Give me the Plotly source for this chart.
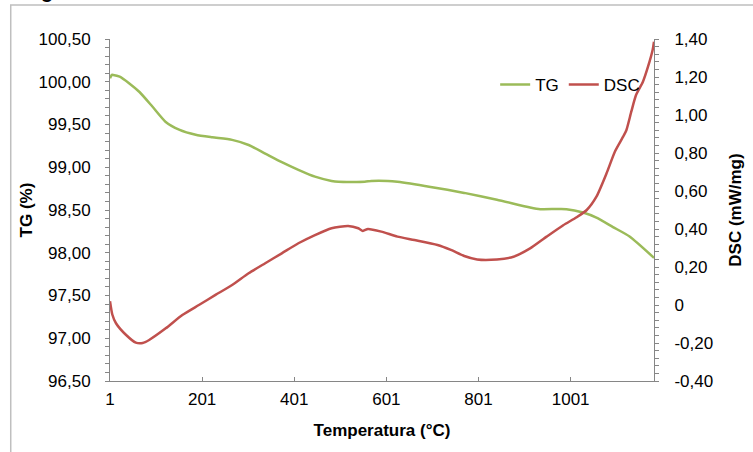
import plotly.graph_objects as go

# ---- data ----
tg_x = [1, 5, 8, 22, 43, 65, 93, 122, 151, 187, 223, 266, 302, 338, 374, 410, 446,
        482, 497, 554, 568, 604, 625, 697, 770, 841, 913, 935, 992, 1028, 1057, 1093,
        1129, 1182]
tg_y = [100.04, 100.08, 100.08, 100.06, 99.98, 99.88, 99.71, 99.53, 99.44, 99.38,
        99.35, 99.32, 99.26, 99.16, 99.06, 98.97, 98.89, 98.84, 98.83, 98.83, 98.84,
        98.84, 98.83, 98.77, 98.70, 98.62, 98.53, 98.51, 98.51, 98.47, 98.41, 98.30,
        98.19, 97.94]

dsc_x = [1, 6, 14, 36, 57, 72, 86, 122, 158, 194, 230, 266, 302, 338, 374, 410, 446,
         482, 518, 540, 550, 561, 590, 625, 662, 712, 741, 770, 798, 841, 877, 913,
         949, 985, 1014, 1036, 1057, 1079, 1097, 1115, 1122, 1133, 1143, 1158, 1169,
         1179, 1182]
dsc_y = [0.02, -0.05, -0.096, -0.158, -0.198, -0.20, -0.184, -0.123, -0.053, 0.00,
         0.053, 0.105, 0.167, 0.22, 0.272, 0.325, 0.368, 0.404, 0.416, 0.404, 0.39,
         0.40, 0.386, 0.36, 0.342, 0.316, 0.29, 0.258, 0.24, 0.24, 0.254, 0.298, 0.36,
         0.42, 0.462, 0.50, 0.57, 0.693, 0.807, 0.886, 0.92, 1.02, 1.105, 1.175, 1.254,
         1.342, 1.386]

x_ticks = [1, 201, 401, 601, 801, 1001]
x_ticklabels = ["1", "201", "401", "601", "801", "1001"]
tg_ticks = [96.5, 97.0, 97.5, 98.0, 98.5, 99.0, 99.5, 100.0, 100.5]
tg_ticklabels = ["96,50", "97,00", "97,50", "98,00", "98,50", "99,00", "99,50",
                 "100,00", "100,50"]
dsc_ticks = [-0.4, -0.2, 0.0, 0.2, 0.4, 0.6, 0.8, 1.0, 1.2, 1.4]
dsc_ticklabels = ["-0,40", "-0,20", "0", "0,20", "0,40", "0,60", "0,80", "1,00",
                  "1,20", "1,40"]

GREEN = "#9BBB59"
RED = "#C0504D"
AXIS = "#868686"
FONT = "Liberation Sans, Arial, sans-serif"

fig = go.Figure()
fig.add_trace(go.Scatter(x=tg_x, y=tg_y, name="TG", mode="lines",
                         line=dict(color=GREEN, width=2.5, shape="spline", smoothing=0.6),
                         yaxis="y"))
fig.add_trace(go.Scatter(x=dsc_x, y=dsc_y, name="DSC", mode="lines",
                         line=dict(color=RED, width=2.5, shape="spline", smoothing=0.6),
                         yaxis="y2"))

L, R, T, B = 110, 95, 39, 71
W, H = 753, 452
pw, ph = W - L - R, H - T - B


def px_x(px):
    return (px - L) / pw


def px_y(py):
    return (H - B - py) / ph


fig.update_layout(
    width=W, height=H,
    margin=dict(l=L, r=R, t=T, b=B, pad=0),
    paper_bgcolor="white", plot_bgcolor="white",
    font=dict(family=FONT, size=17, color="black"),
    showlegend=True,
    legend=dict(orientation="h", x=px_x(498), xanchor="left", y=px_y(85),
                yanchor="middle", bgcolor="rgba(0,0,0,0)", borderwidth=0,
                font=dict(size=17), itemwidth=30, tracegroupgap=0),
    xaxis=dict(range=[1, 1182], tickvals=x_ticks, ticktext=x_ticklabels,
               showgrid=False, zeroline=False, showline=True, linecolor=AXIS,
               linewidth=1, ticks="inside", ticklen=4, tickcolor=AXIS,
               ticklabelstandoff=3,
               title=dict(text="<b>Temperatura (°C)</b>", font=dict(size=17),
                          standoff=15),
               tickfont=dict(size=17)),
    yaxis=dict(range=[96.5, 100.5], tickvals=tg_ticks, ticktext=tg_ticklabels,
               showgrid=False, zeroline=False, showline=True, linecolor=AXIS,
               linewidth=1, ticks="outside", ticklen=4, tickcolor=AXIS,
               minor=dict(dtick=0.1, ticks="outside", ticklen=4, tickcolor=AXIS),
               ticklabelstandoff=11,
               title=dict(text="<b>TG (%)</b>", font=dict(size=17), standoff=1),
               tickfont=dict(size=17)),
    yaxis2=dict(range=[-0.4, 1.4], tickvals=dsc_ticks, ticktext=dsc_ticklabels,
                overlaying="y", side="right", anchor="x",
                showgrid=False, zeroline=False, showline=True, linecolor=AXIS,
                linewidth=1, ticks="outside", ticklen=4, tickcolor=AXIS,
                minor=dict(dtick=0.04, ticks="outside", ticklen=4, tickcolor=AXIS),
                ticklabelstandoff=12,
                title=dict(text="<b>DSC (mW/mg)</b>", font=dict(size=17), standoff=16),
                tickfont=dict(size=17)),
)

# chart-area border (extends past the visible window on the right and bottom)
fig.add_shape(type="rect", xref="paper", yref="paper",
              x0=px_x(10), x1=px_x(770), y0=px_y(470), y1=px_y(5),
              line=dict(color="#BFBFBF", width=1.5), fillcolor="rgba(0,0,0,0)",
              layer="below")

# cut-off caption glyph at the top-left corner (cropped in the reference too)
fig.add_annotation(text="<b>g</b>", xref="paper", yref="paper",
                   x=px_x(47), y=px_y(4), xanchor="center", yanchor="bottom",
                   showarrow=False, font=dict(size=20, color="black"))

fig.write_html("out.html")
